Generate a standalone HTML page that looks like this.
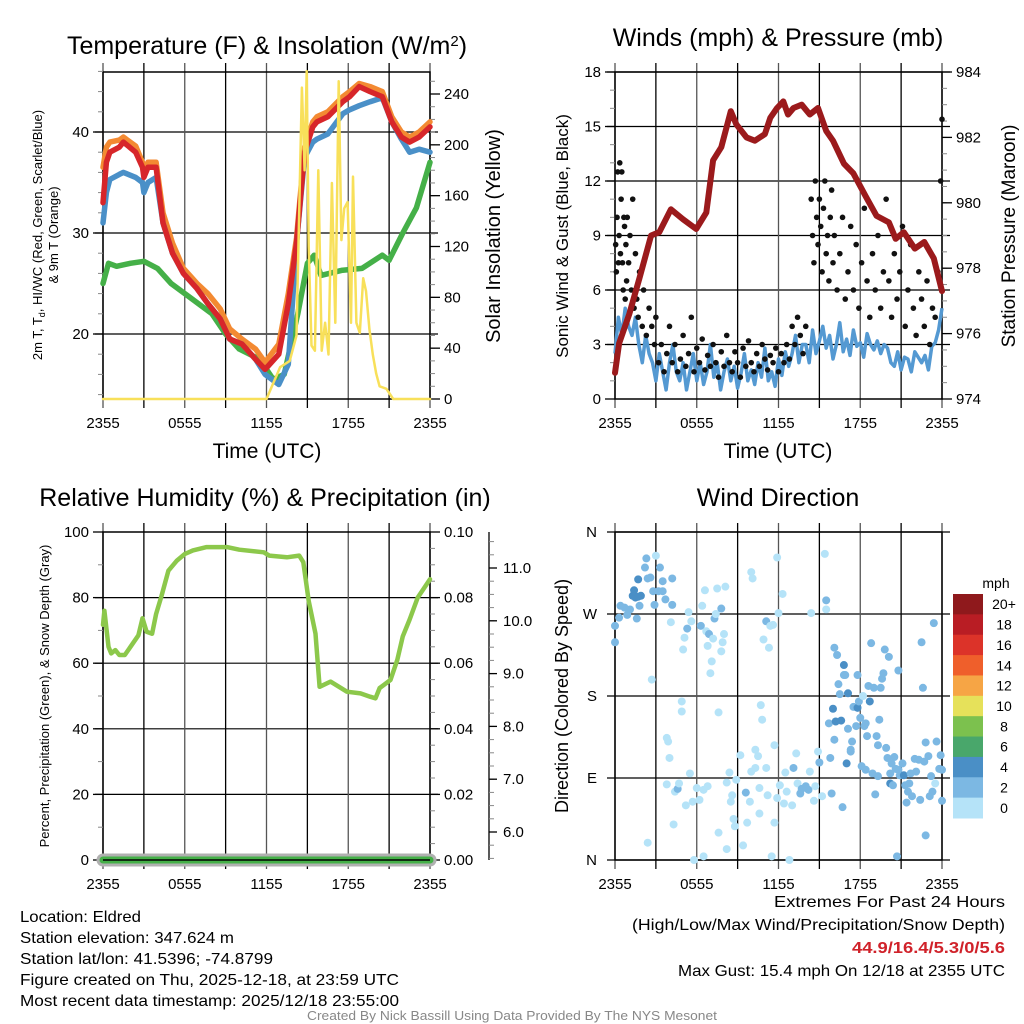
<!DOCTYPE html>
<html><head><meta charset="utf-8"><style>
html,body{margin:0;padding:0;background:#fff}
svg{display:block;font-family:"Liberation Sans",sans-serif}
.n{font-family:"Liberation Sans Narrow","Liberation Sans",sans-serif}
</style></head><body>
<svg id="c" width="1024" height="1024" viewBox="0 0 1024 1024" xmlns="http://www.w3.org/2000/svg">
<rect width="1024" height="1024" fill="#fff"/>
<g id="g"></g>
<text x="267" y="54" font-size="25" text-anchor="middle">Temperature (F) &amp; Insolation (W/m<tspan baseline-shift="super" font-size="15">2</tspan>)</text>
<text x="778" y="46" font-size="25" text-anchor="middle">Winds (mph) &amp; Pressure (mb)</text>
<text x="265" y="506" font-size="25" text-anchor="middle">Relative Humidity (%) &amp; Precipitation (in)</text>
<text x="778" y="506" font-size="25" text-anchor="middle">Wind Direction</text>
<text x="267" y="458" font-size="21" text-anchor="middle">Time (UTC)</text>
<text x="778" y="458" font-size="21" text-anchor="middle">Time (UTC)</text>
<text transform="translate(42,235) rotate(-90)" font-size="13" text-anchor="middle">2m T, T<tspan font-size="9" dy="3">d</tspan><tspan dy="-3">, HI/WC (Red, Green, Scarlet/Blue)</tspan></text>
<text transform="translate(58,235) rotate(-90)" font-size="13" text-anchor="middle">&amp; 9m T (Orange)</text>
<text transform="translate(500,236) rotate(-90)" font-size="20" text-anchor="middle">Solar Insolation (Yellow)</text>
<text transform="translate(568,236) rotate(-90)" font-size="17" text-anchor="middle">Sonic Wind &amp; Gust (Blue, Black)</text>
<text transform="translate(1015,236) rotate(-90)" font-size="19" text-anchor="middle">Station Pressure (Maroon)</text>
<text transform="translate(49,696) rotate(-90)" font-size="13" text-anchor="middle">Percent, Precipitation (Green), &amp; Snow Depth (Gray)</text>
<text transform="translate(568,696) rotate(-90)" font-size="18" text-anchor="middle">Direction (Colored By Speed)</text>
<text x="996" y="588" font-size="14" text-anchor="middle">mph</text>
<g class="n" font-size="16">
<text x="20" y="922" textLength="121" lengthAdjust="spacingAndGlyphs">Location: Eldred</text>
<text x="20" y="943" textLength="214" lengthAdjust="spacingAndGlyphs">Station elevation: 347.624 m</text>
<text x="20" y="964" textLength="253" lengthAdjust="spacingAndGlyphs">Station lat/lon: 41.5396; -74.8799</text>
<text x="20" y="985" textLength="379" lengthAdjust="spacingAndGlyphs">Figure created on Thu, 2025-12-18, at 23:59 UTC</text>
<text x="20" y="1006" textLength="379" lengthAdjust="spacingAndGlyphs">Most recent data timestamp: 2025/12/18 23:55:00</text>
</g>
<g class="n" font-size="16">
<text x="774" y="907" textLength="231" lengthAdjust="spacingAndGlyphs">Extremes For Past 24 Hours</text>
<text x="632" y="930" textLength="373" lengthAdjust="spacingAndGlyphs">(High/Low/Max Wind/Precipitation/Snow Depth)</text>
<text x="852" y="953" textLength="153" lengthAdjust="spacingAndGlyphs" fill="#d0222a" font-weight="bold">44.9/16.4/5.3/0/5.6</text>
<text x="678" y="976" textLength="327" lengthAdjust="spacingAndGlyphs">Max Gust: 15.4 mph On 12/18 at 2355 UTC</text>
</g>
<text class="n" x="307" y="1020" font-size="12.5" fill="#888" textLength="410" lengthAdjust="spacingAndGlyphs">Created By Nick Bassill Using Data Provided By The NYS Mesonet</text>
</svg>
<script>
// ---- Temperature panel data (hours since 2355 UTC) ----
const tempHours=[0,0.25,0.5,1.2,1.5,2.4,2.9,3.0,3.3,3.9,4.4,5.1,5.9,6.9,7.7,8.6,9.3,10.2,11.2,11.9,12.9,13.6,14.2,14.8,15.4,15.7,16.5,17.6,18.1,18.8,19.6,20.5,21.2,21.9,22.5,23.2,24];
const tempRed=[33,37,38,38.5,39,38,36.5,35.5,36.5,36.5,31,28,26,24.5,23,21.5,19.5,19,17.5,16.5,18,23,29,38,40.5,41,41.5,43,43.5,44.5,44,43.5,41,39.5,39,39.5,40.5];
const tempOrange=[36.5,38.5,39,39.2,39.5,38.6,37,36,37,37,32,29,26.5,25,24,22.5,20.5,19.5,18.5,17.2,19,24,29.5,38.5,41,41.5,42,43.5,44,44.8,44.5,44,41.5,40,39.5,40,41];
const tempBlue=[31,34,35.3,35.8,36,35.5,35,34,35,35.5,31,28,26,24.5,23,21.5,19.5,19,17.5,16,15,17,29,37.5,39,39.3,39.8,41.8,42.2,42.6,43,43.4,41,39.3,38,38.3,38];
const dewHours=[0,0.4,1,2,3,4,5,6.5,8,9,10,11.5,12.5,13.3,14.3,15,15.5,16,17.5,19,20.5,21,22,23,24];
const dewValues=[25,27,26.7,27,27.2,26.5,25,23.5,22,20,18.5,17.5,15.5,16,22,27,27.8,25.8,26.3,26.5,27.8,27.3,30,32.5,37];
const solarHours=[0,12,13,13.7,14.2,14.6,14.8,14.95,15.1,15.3,15.55,15.8,16.05,16.3,16.55,16.8,17.05,17.3,17.5,17.7,17.95,18.2,18.35,18.6,18.85,19.1,19.3,19.55,19.8,20.05,20.3,20.8,21.3,21.6,24];
const solarValues=[0,0,25,30,50,245,180,258,120,42,38,180,38,60,35,170,60,250,125,150,155,60,175,60,52,95,85,55,35,20,10,8,0,0,0];
// ---- Wind panel data ----
const pressHours=[0,0.3,1.05,1.8,2.65,3.25,4.1,4.98,5.96,6.7,7.2,7.8,8.5,8.9,9.65,10.26,11.0,11.4,11.9,12.35,12.7,13.1,13.7,14.3,14.9,15.5,16.0,16.8,17.5,18.4,19.2,20.1,20.6,21.2,22.0,22.7,23.4,24.0];
const pressValues=[974.8,975.7,976.6,977.7,979.0,979.1,979.8,979.5,979.2,979.7,981.3,981.7,982.8,982.4,982.0,981.9,982.1,982.6,982.9,983.1,982.7,982.9,983.0,982.7,982.9,982.2,981.9,981.2,980.9,980.2,979.6,979.4,978.9,979.1,978.6,978.8,978.3,977.3];
const windValues=[2.5,4.5,3.5,5,4,3.5,4.5,3,2,3.5,2.5,2,1,2.5,1.5,0.5,2,3,1.5,1,2,0.5,1.5,2.5,1,2,0.8,1.5,3,1.2,2,0.5,1.5,2.2,1,1.8,0.6,1.4,2.5,1,1.6,0.8,2,1.2,2.8,1,1.5,0.7,2.2,1.3,2.6,1.8,2.5,3.5,2,3,3,2,3.8,2.5,3.2,4,2.8,3.5,2.2,3,4.2,2.6,3.3,2.4,3.8,2.9,3.1,2.3,3.6,3,2.7,3.2,2.5,3,2.8,2,1.8,2.6,1.6,2.3,2.2,1.5,2.6,2.3,2,2.4,1.6,2.9,3.1,3.8,5];
const gustHours=[0.05,0.1,0.15,0.2,0.25,0.3,0.35,0.4,0.45,0.5,0.55,0.6,0.65,0.7,0.75,0.8,0.85,0.9,1.0,1.1,1.2,1.3,1.4,1.5,1.6,1.7,1.8,2.0,2.1,2.3,2.5,2.7,2.9,3.0,3.2,3.4,3.6,3.8,4.0,4.2,4.4,4.6,4.8,5.0,5.2,5.4,5.6,5.8,6.0,6.2,6.4,6.6,6.8,7.0,7.2,7.4,7.6,7.8,8.0,8.2,8.4,8.6,8.8,9.0,9.2,9.4,9.6,9.8,10,10.2,10.4,10.6,10.8,11.0,11.2,11.4,11.6,11.8,12.0,12.2,12.4,12.6,12.8,13.0,13.2,13.4,13.6,13.8,14.0,14.4,14.5,14.6,14.7,14.8,14.9,15.0,15.1,15.2,15.3,15.4,15.5,15.6,15.7,15.8,15.9,16.0,16.1,16.3,16.5,16.7,16.9,17.1,17.3,17.5,17.7,17.9,18.1,18.3,18.5,18.7,18.9,19.1,19.3,19.5,19.7,19.9,20.1,20.3,20.5,20.7,20.9,21.1,21.3,21.5,21.7,21.9,22.1,22.3,22.5,22.7,22.9,23.1,23.3,23.5,23.7,23.9,24];
const gustValues=[8.5,7,10,12.5,7.5,9,13,8,11,12.5,7.5,6,10,9.5,5.5,8.5,6.5,10,7.5,9,6,11,5,8,5.5,4.5,7,4,6,3.5,5,4,3,4.5,2,3,1.5,2.5,4,2,3,1.5,2.2,3.5,1.8,2.5,4.5,1.5,2.8,2,3.3,1.6,2.4,1.8,3,2,1.2,2.6,1.8,3.5,2,1.5,2.6,2,1.2,2.8,1.8,3.2,2,1.5,2.5,1.8,3,2.2,1.6,2.4,2,2.8,1.5,2.5,2,3,2.2,4,3,4.5,3.5,2.5,4,11,9,7.5,12,10,8.5,11,9.5,7,10.5,12,8,9,6.5,10,11.5,7.5,9,6,8,10,5.5,7,9.5,6,8.5,5,7.5,10.5,6.5,4.5,8,6,9,5,7,11,6.5,4.5,8,5.5,7,9.5,4,6,8.5,5,3.5,7,5.5,4,6.5,3,5,4.5,7,12,15.4];
// ---- Humidity panel data ----
const rhHours=[0,0.1,0.4,0.6,0.9,1.2,1.6,2.1,2.6,2.9,3.2,3.6,3.9,4.3,4.8,5.4,6.0,6.6,7.6,9.1,10,11.8,12.2,13.5,14.4,14.7,15.1,15.6,15.9,16.7,17.9,18.9,19.6,20.0,20.3,21.1,21.6,22.0,22.5,23.1,24];
const rhValues=[71.7,76,65,63,64,62.5,62.5,65.5,68.5,73.7,69.6,69,75,80.6,88.2,91.2,93.3,94.4,95.4,95.4,94.6,93.8,92.8,92.3,92.8,90.8,79,69,52.8,54.4,51.3,50.8,49.8,49.3,52.4,54.9,61,68.2,73.3,80,85.6];
const precipHours=[0,24];
const precipValues=[0,0];
// ---- Wind direction data ----
const dirHours=[0,0,0.3,0.4,0.7,0.9,1.1,1.3,1.4,1.5,1.7,1.9,1.7,1.6,1.8,2.2,2.3,2.4,2.6,3.0,2.8,2.9,3.2,3.3,3.5,3.5,3.7,4.2,4.2,4.1,2.7,5.0,5.1,5.3,5.4,5.6,6.3,6.4,6.6,6.7,6.9,6.8,7.1,7.0,7.2,7.3,7.4,7.5,7.8,8.0,7.8,7.9,8.1,7.6,4.9,4.9,3.8,3.9,4.0,3.8,4.4,4.6,4.7,4.3,2.4,5.2,5.5,5.7,6.0,6.2,6.5,6.8,5.8,6.5,7.6,8.2,8.4,8.2,8.5,8.6,8.7,8.8,8.9,9.2,9.4,9.6,9.7,9.9,10.0,10.3,10.3,10.5,10.6,10.7,10.8,10.0,10.1,10.6,11.1,11.2,11.1,11.5,11.7,11.7,11.9,11.9,12.0,12.1,12.3,12.4,12.5,12.6,12.8,13.0,13.1,13.3,13.4,13.6,13.7,14.0,14.2,14.3,14.4,14.6,14.7,14.9,15.0,15.2,15.4,15.5,15.5,10.9,11.3,11.4,11.6,15.7,15.8,15.9,16.0,16.1,16.1,16.2,16.3,16.4,16.5,16.6,16.7,16.8,16.8,16.9,17.0,17.1,17.1,17.3,17.3,17.4,17.5,17.7,17.8,17.8,17.9,18.0,18.1,18.2,18.3,18.4,18.4,18.5,18.6,18.7,18.8,18.9,19.0,19.1,19.2,19.3,19.3,19.4,19.5,19.6,19.7,19.8,19.9,20.0,20.1,20.2,20.2,20.3,20.4,20.5,20.6,20.7,20.8,20.8,20.9,21.1,21.2,21.3,21.4,21.5,21.6,21.7,21.8,22.0,22.1,22.3,22.4,22.5,22.6,22.7,22.8,22.8,23.0,23.1,23.2,23.3,23.4,23.5,23.6,23.8,23.9,24.0,24.0];
const dirDegrees=[239,257,266,279,277,269,275,290,296,288,289,290,308,265,279,321,331,309,310,334,295,280,295,321,295,306,286,280,309,261,198,231,244,254,272,262,257,279,296,251,248,235,218,205,243,265,270,298,276,248,229,239,300,162,174,163,134,130,112,83,75,78,84,39,19,60,95,64,79,66,77,81,0,4,30,12,96,85,64,71,45,37,88,115,16,74,41,64,97,101,121,114,51,170,154,316,309,79,262,71,101,4,126,41,332,68,271,82,292,62,96,75,0,60,101,117,84,73,78,81,77,97,271,65,81,119,107,70,336,285,275,242,233,257,258,150,112,73,166,233,132,152,225,193,182,153,58,203,214,203,106,183,144,119,121,130,168,147,203,167,174,156,103,180,147,99,150,136,191,174,238,95,189,72,136,126,92,154,189,199,205,231,123,112,223,84,95,106,82,113,100,4,208,99,93,106,93,82,63,75,84,95,70,111,97,110,66,239,189,108,129,27,114,70,92,75,260,84,130,100,115,65,99];
const dirSpeeds=[2,3,2,3,3,2,3,4,4,4,4,4,4,2,2,2,2,2,2,1,2,2,2,2,2,2,2,2,3,1,1,1,1,2,1,1,2,1,1,1,2,1,1,1,1,2,1,1,2,1,1,1,1,0,0,0,1,1,1,1,1,2,1,0,0,0,0,0,1,0,1,0,0,0,0,0,0,0,0,0,0,0,1,0,0,2,0,0,0,0,0,0,0,0,0,0,0,0,3,0,0,0,0,0,0,0,0,1,0,0,0,0,0,0,2,0,1,2,2,2,2,0,0,0,1,1,2,1,0,2,0,1,1,1,1,3,3,2,4,2,2,4,2,2,2,4,3,2,4,2,4,4,2,3,3,2,3,2,2,4,2,2,2,1,2,2,2,2,2,4,2,2,2,2,2,2,2,2,2,2,2,2,2,2,2,4,2,2,2,2,2,2,2,2,2,2,4,2,3,2,2,2,2,2,2,2,2,2,2,2,2,2,2,2,2,2,2,1,2,2,2,2,3,4,3];
const colorbarLabels=["20+","18","16","14","12","10","8","6","4","2","0"];
const colorbarColors=["#8f191c","#b91d24","#dc3329","#ef5f2b","#f6a545","#e6e15a","#7cc14e","#49a76b","#4a8fc6","#7cb8e3","#b5e3f8"];
const xTickLabels=["2355","0555","1155","1755","2355"];

const NS="http://www.w3.org/2000/svg";
const G=document.getElementById('g');
function mk(tag,attrs,parent){const e=document.createElementNS(NS,tag);for(const k in attrs)e.setAttribute(k,attrs[k]);(parent||G).appendChild(e);return e;}
function lin(d0,d1,p0,p1){return v=>p0+(v-d0)*(p1-p0)/(d1-d0);}
function pathOf(xs,ys,fx,fy){return xs.map((h,i)=>(i?'L':'M')+fx(h).toFixed(1)+' '+fy(ys[i]).toFixed(1)).join('');}

function frame(x0,x1,y0,y1,fx,name){
  const g=mk('g',{});
  
  
  for(let i=0;i<=8;i++){
    const x=fx(i*3);
    const l=mk('line',{x1:x,x2:x,y1:y0-9,y2:y1+9,stroke:i%2?'#000':'#555','stroke-width':1.3},g);
    
    
  }
  for(let i=0;i<5;i++){
    const t=mk('text',{x:fx(i*6),y:y1+29,'font-size':15,'text-anchor':'middle'},g);
    t.textContent=xTickLabels[i];
    
    
  }
  mk('rect',{x:x0,y:y0,width:x1-x0,height:y1-y0,fill:'none',stroke:'#000','stroke-width':1.5},g);
  return g;
}
function yAxis(x,side,vals,fy,fmt,minorStep,lo,hi,name,len){
  const g=mk('g',{});
  
  
  const dir=side==='left'?-1:1;
  for(let v=lo;v<=hi+1e-9;v+=minorStep){const y=fy(v);mk('line',{x1:x,x2:x+dir*5,y1:y,y2:y,stroke:'#888','stroke-width':1},g);}
  vals.forEach(v=>{const y=fy(v);mk('line',{x1:x,x2:x+dir*(len||10),y1:y,y2:y,stroke:'#000','stroke-width':1.3},g);
    const t=mk('text',{x:x+dir*14,y:y+5,'font-size':15,'text-anchor':side==='left'?'end':'start'},g);
    t.textContent=fmt(v);
    
    });
  return g;
}
function hgrid(x0,x1,vals,fy){vals.forEach(v=>{const y=fy(v);const l=mk('line',{x1:x0-8,x2:x1+8,y1:y,y2:y,stroke:'#000','stroke-width':1.2});});}

// ===== Panel 1: Temperature =====
(function(){
  const x0=103,x1=430,y0=72,y1=399;
  const fx=lin(0,24,x0,x1), fT=lin(20,40,334,132), fS=lin(0,240,399,94);
  hgrid(x0,x1,[20,30,40],fT);
  frame(x0,x1,y0,y1,fx,'temperature');
  yAxis(x0,'left',[20,30,40],fT,v=>v,2,14,46,'temperature-y-axis');
  yAxis(x1,'right',[0,40,80,120,160,200,240],fS,v=>v,10,0,250,'solar-y-axis');
  const lines=[[dewHours,dewValues,'#45b048','dewpoint-line',fT,5.5],[tempHours,tempOrange,'#f38a32','nine-meter-temp-line',fT,5.5],[tempHours,tempBlue,'#4a90c8','wind-chill-line',fT,5.5],[tempHours,tempRed,'#d7262a','temperature-line',fT,5.5],[solarHours,solarValues,'#f8e05a','solar-insolation-line',fS,2.5]];
  lines.forEach(([xs,ys,c,n,fy,w])=>{const p=mk('path',{d:pathOf(xs,ys,fx,fy),fill:'none',stroke:c,'stroke-width':w,'stroke-linejoin':'round','stroke-linecap':'round'});});
})();

// ===== Panel 2: Winds =====
(function(){
  const x0=615,x1=942,y0=72,y1=399;
  const fx=lin(0,24,x0,x1), fW=lin(0,18,399,72), fP=lin(974,984,399,72);
  hgrid(x0,x1,[3,6,9,12,15,18],fW);
  frame(x0,x1,y0,y1,fx,'wind');
  yAxis(x0,'left',[0,3,6,9,12,15,18],fW,v=>v,1,0,18,'wind-y-axis');
  yAxis(x1,'right',[974,976,978,980,982,984],fP,v=>v,0.5,974,984,'pressure-y-axis');
  const wh=windValues.map((v,i)=>i*24/(windValues.length-1));
  const w=mk('path',{d:pathOf(wh,windValues,fx,fW),fill:'none',stroke:'#5499d2','stroke-width':3.5,'stroke-linejoin':'round'});
  
  
  const gg=mk('g',{fill:'#111'});
  
  
  gustHours.forEach((h,i)=>{const c=mk('circle',{cx:fx(h),cy:fW(gustValues[i]),r:2.8},gg);});
  const p=mk('path',{d:pathOf(pressHours,pressValues,fx,fP),fill:'none',stroke:'#9b1a1c','stroke-width':6,'stroke-linejoin':'round','stroke-linecap':'round'});
  
  
})();

// ===== Panel 3: Humidity =====
(function(){
  const x0=103,x1=430,y0=532,y1=860;
  const fx=lin(0,24,x0,x1), fR=lin(0,100,860,532), fQ=lin(0,0.1,860,532), fD=lin(6,11,832,568);
  hgrid(x0,x1,[20,40,60,80],fR);
  frame(x0,x1,y0,y1,fx,'humidity');
  yAxis(x0,'left',[0,20,40,60,80,100],fR,v=>v,10,0,100,'humidity-y-axis');
  yAxis(x1,'right',[0,0.02,0.04,0.06,0.08,0.1],fQ,v=>v.toFixed(2),0.005,0,0.1,'precip-y-axis');
  const sa=mk('g',{});
  
  
  mk('line',{x1:489,x2:489,y1:532,y2:860,stroke:'#000','stroke-width':1.3},sa);
  yAxis(489,'right',[6,7,8,9,10,11],fD,v=>v.toFixed(1),0.25,5.5,11.5,'snow-depth-y-axis',8);
  const s=mk('path',{d:pathOf(precipHours,precipValues,fx,fQ),fill:'none',stroke:'#b0b0b0','stroke-width':13,'stroke-linecap':'round'});
  
  
  const q=mk('path',{d:pathOf(precipHours,precipValues,fx,fQ),fill:'none',stroke:'#45b048','stroke-width':7,'stroke-linecap':'round'});
  
  
  mk('line',{x1:x0,x2:x1,y1:860,y2:860,stroke:'#000','stroke-width':1.5});
  const r=mk('path',{d:pathOf(rhHours,rhValues,fx,fR),fill:'none',stroke:'#8cc84b','stroke-width':4.5,'stroke-linejoin':'round','stroke-linecap':'round'});
  
  
})();

// ===== Panel 4: Wind direction =====
(function(){
  const x0=615,x1=942,y0=532,y1=860;
  const fx=lin(0,24,x0,x1), fD=lin(0,360,860,532);
  hgrid(x0,x1,[0,90,180,270,360],fD);
  frame(x0,x1,y0,y1,fx,'direction');
  ['N','E','S','W','N'].forEach((l,i)=>{const t=mk('text',{x:597,y:fD(i*90)+5,'font-size':15,'text-anchor':'end'});t.textContent=l;});
  const col=s=>s<2?'#b5e3f8':s<4?'#7cb8e3':'#4a8fc6';
  const dg=mk('g',{});
  
  
  dirHours.forEach((h,i)=>{const c=mk('circle',{cx:fx(h),cy:fD(dirDegrees[i]),r:4,fill:col(dirSpeeds[i])},dg);});
  const cb=mk('g',{});
  
  
  const h=(818-594)/colorbarLabels.length;
  colorbarLabels.forEach((l,i)=>{mk('rect',{x:953,y:594+i*h,width:30,height:h+0.5,fill:colorbarColors[i]},cb);
    const t=mk('text',{x:1004,y:594+i*h+h/2+5,'font-size':14,'text-anchor':'middle'},cb);t.textContent=l;
    
    });
})();
</script>
</body></html>
